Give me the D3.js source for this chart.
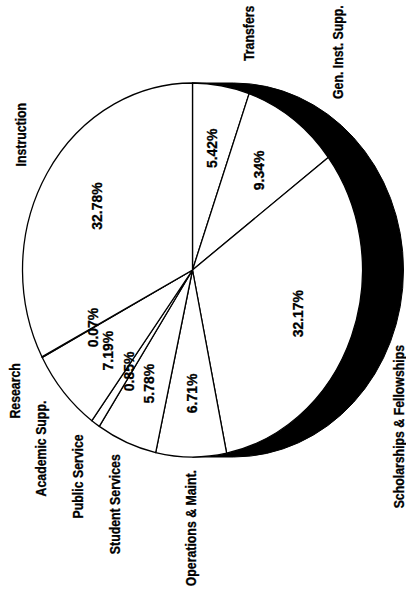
<!DOCTYPE html>
<html>
<head>
<meta charset="utf-8">
<script src="https://cdn.jsdelivr.net/npm/d3@7"></script>
<style>
  html, body { margin: 0; padding: 0; background: #fff; }
  svg { display: block; }
  text { font-family: "Liberation Sans", Arial, sans-serif; font-weight: bold; fill: #000; stroke: #000; stroke-width: 0.3px; }
</style>
</head>
<body>
<svg id="chart" width="406" height="599"></svg>
<script>
// Expenditure shares by function (percent), in drawing order around the pie
const categories = [
  "Transfers",
  "Gen. Inst. Supp.",
  "Scholarships & Fellowships",
  "Operations & Maint.",
  "Student Services",
  "Public Service",
  "Academic Supp.",
  "Research",
  "Instruction"
];
const shares = [5.42, 9.34, 32.17, 6.71, 5.78, 0.85, 7.19, 0.07, 32.78];

const W = 406, H = 599;
const cx = 192.5, cy = 270;     // pie centre on the page
const rx = 187, ry = 170;       // tilted disc radii (before page rotation)
const depth = 41;               // thickness of the disc
const k = ry / rx;

const svg = d3.select("#chart");
const data = categories.map((name, i) => ({ name, value: shares[i] }));

// Slices start at the right-hand side of the disc and run clockwise
const pie = d3.pie()
  .sort(null)
  .value(d => d.value)
  .startAngle(Math.PI / 2)
  .endAngle(Math.PI / 2 + 2 * Math.PI);
const arcs = pie(data);

// The whole chart is turned a quarter turn so it reads bottom-to-top
const root = svg.append("g")
  .attr("transform", `translate(${cx},${cy}) rotate(-90)`);

const disc = root.append("g").attr("transform", `scale(1,${k})`);

// Visible rim of the disc (front half), solid black
const rim = d3.path();
const d = depth / k;
rim.moveTo(rx, 0);
rim.arc(0, 0, rx, 0, Math.PI, false);
rim.lineTo(-rx, d);
rim.arc(0, d, rx, Math.PI, 0, true);
rim.closePath();
disc.append("path")
  .attr("d", rim.toString())
  .attr("fill", "#000")
  .attr("stroke", "#000")
  .attr("stroke-width", 1)
  .attr("vector-effect", "non-scaling-stroke");

// Top face slices
const arcGen = d3.arc().innerRadius(0).outerRadius(rx);
disc.selectAll("path.slice")
  .data(arcs)
  .join("path")
  .attr("class", "slice")
  .attr("d", arcGen)
  .attr("fill", "#fff")
  .attr("stroke", "#000")
  .attr("stroke-width", 1.3)
  .attr("stroke-linejoin", "round")
  .attr("vector-effect", "non-scaling-stroke");

const midAngle = a => (a.startAngle + a.endAngle) / 2 - Math.PI / 2;

// Percentage labels inside each slice (narrow bold face)
root.selectAll("text.pct")
  .data(arcs)
  .join("text")
  .attr("class", "pct")
  .attr("transform", a => {
    const t = midAngle(a);
    return `translate(${0.66 * rx * Math.cos(t)},${0.66 * ry * Math.sin(t)}) scale(0.9,1)`;
  })
  .attr("text-anchor", "middle")
  .attr("dominant-baseline", "central")
  .attr("font-size", 15.5)
  .text(a => a.data.value.toFixed(2) + "%");

// Category names around the disc
const edge = W - cx - 7;
root.selectAll("text.cat")
  .data(arcs)
  .join("text")
  .attr("class", "cat")
  .each(function (a) {
    const t = midAngle(a);
    const c = Math.cos(t), s = Math.sin(t);
    const front = s > 0;
    const R = front ? 212 : 200;
    const x = R * c;
    const y = Math.min(R * s + (front ? depth / 2 : 0), edge);
    d3.select(this)
      .attr("transform", `translate(${x},${y}) scale(0.88,1)`)
      .attr("text-anchor", c < 0 ? "end" : "start");
  })
  .attr("dominant-baseline", "central")
  .attr("font-size", 14)
  .text(a => a.data.name);
</script>
</body>
</html>
